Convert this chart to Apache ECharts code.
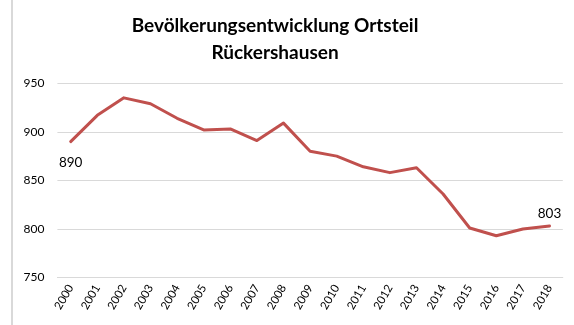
<!DOCTYPE html>
<html>
<head>
<meta charset="utf-8">
<script src="https://cdn.jsdelivr.net/npm/echarts@6/dist/echarts.min.js"></script>
<style>
  html, body { margin: 0; padding: 0; background: #fff; }
  #chart { width: 574px; height: 325px; }
</style>
</head>
<body>
<div id="chart"></div>
<script>
// Einwohnerzahlen Ortsteil Rückershausen, 2000–2018
const years = ['2000','2001','2002','2003','2004','2005','2006','2007','2008','2009',
               '2010','2011','2012','2013','2014','2015','2016','2017','2018'];
const population = [890, 917, 935, 929, 914, 902, 903, 891, 909, 880,
                    875, 864, 858, 863, 836, 801, 793, 800, 803];
const yTicks = { min: 750, max: 950, step: 50 };
const titleText = 'Bevölkerungsentwicklung Ortsteil\nRückershausen';

const font = 'Lato, "Open Sans", sans-serif';
const lastIdx = population.length - 1;

// Only the first and last values carry a label
const seriesData = population.map((v, i) => {
  if (i === 0) return { value: v, label: { show: true, position: 'bottom', distance: 14 } };
  if (i === lastIdx) return { value: v, label: { show: true, position: 'top', distance: 5 } };
  return v;
});

const chart = echarts.init(document.getElementById('chart'), null, { renderer: 'canvas' });
chart.setOption({
  animation: false,
  backgroundColor: '#ffffff',
  title: {
    text: titleText,
    left: 270,
    textAlign: 'center',
    top: 7,
    textStyle: {
      fontFamily: font,
      fontWeight: 'bold',
      fontSize: 19,
      lineHeight: 27,
      color: '#000000'
    }
  },
  graphic: [{
    type: 'rect',
    shape: { x: 11, y: 0, width: 2, height: 325 },
    style: { fill: '#d9d9d9' },
    silent: true
  }],
  grid: { left: 57.4, right: 11.2, top: 83.3, bottom: 47.5, containLabel: false },
  xAxis: {
    type: 'category',
    data: years,
    boundaryGap: true,
    axisLine: { show: true, lineStyle: { color: '#d9d9d9', width: 1 } },
    axisTick: { show: false },
    axisLabel: {
      rotate: 60,
      interval: 0,
      margin: 8,
      fontFamily: font,
      fontSize: 11.5,
      color: '#000000'
    }
  },
  yAxis: {
    type: 'value',
    min: yTicks.min,
    max: yTicks.max,
    interval: yTicks.step,
    axisLine: { show: false },
    axisTick: { show: false },
    splitLine: { lineStyle: { color: '#d9d9d9', width: 1 } },
    axisLabel: {
      margin: 13,
      fontFamily: font,
      fontSize: 12,
      color: '#000000'
    }
  },
  series: [{
    type: 'line',
    data: seriesData,
    // transparent symbols so the end labels have an anchor
    symbol: 'circle',
    symbolSize: 1,
    showSymbol: true,
    showAllSymbol: true,
    itemStyle: { color: 'rgba(0,0,0,0)', borderWidth: 0 },
    lineStyle: { color: '#c0504d', width: 3, cap: 'round', join: 'round' },
    emphasis: { disabled: true },
    label: {
      fontFamily: font,
      fontSize: 13.5,
      color: '#000000',
      opacity: 1
    }
  }]
});
</script>
</body>
</html>
